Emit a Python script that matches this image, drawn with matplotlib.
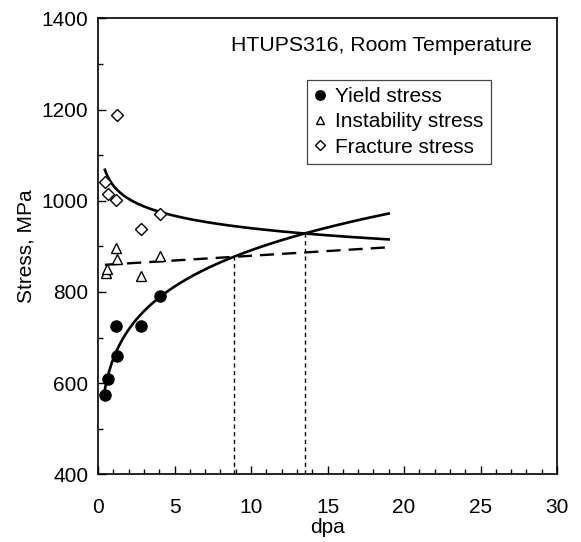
import numpy as np
import matplotlib

matplotlib.use("Agg")
import matplotlib.pyplot as plt

plt.rcParams["font.family"] = ["Liberation Sans", "DejaVu Sans"]

# measured points (dpa, MPa)
yield_dpa = [0.46, 0.63, 1.22, 1.16, 2.80, 4.05]
yield_mpa = [573, 610, 659, 725, 725, 791]

inst_dpa = [0.50, 0.57, 1.16, 1.22, 2.80, 4.05]
inst_mpa = [842, 850, 897, 872, 834, 878]

frac_dpa = [0.46, 0.63, 1.16, 1.22, 2.80, 4.05]
frac_mpa = [1040, 1015, 1001, 1187, 938, 971]

x_ticks = [0, 5, 10, 15, 20, 25, 30]
y_ticks = [400, 600, 800, 1000, 1200, 1400]


def power_fit(x, y):
    n, ln_a = np.polyfit(np.log(x), np.log(y), 1)
    return lambda t: np.exp(ln_a) * np.power(t, n)


def linear_fit(x, y):
    m, b = np.polyfit(x, y, 1)
    return lambda t: m * t + b


f_yield = power_fit(yield_dpa, yield_mpa)
f_frac = power_fit(frac_dpa, frac_mpa)
f_inst = linear_fit(inst_dpa, inst_mpa)

t = np.linspace(0.45, 19, 400)


def crossing(f, g):
    grid = np.linspace(1, 19, 20001)
    d = f(grid) - g(grid)
    i = np.where(np.diff(np.sign(d)) != 0)[0][0]
    xc = grid[i]
    return xc, f(xc)


x1, y1 = crossing(f_yield, f_inst)
x2, y2 = crossing(f_yield, f_frac)

fig = plt.figure(figsize=(5.81, 5.42), dpi=100)
ax = fig.add_axes([0.1687, 0.1248, 0.79, 0.8414])

ax.plot(t, f_frac(t), color="black", lw=1.9, zorder=2)
ax.plot(t, f_yield(t), color="black", lw=1.9, zorder=2)
ax.plot(t, f_inst(t), color="black", lw=1.7, ls=(0, (6, 3.4)), zorder=2)

for xc, yc in [(x1, y1), (x2, y2)]:
    ax.plot([xc, xc], [400, yc], color="black", lw=1.0, ls=(0, (3, 2.5)), zorder=1)

ax.plot(yield_dpa, yield_mpa, "o", ms=8, mfc="black", mec="black",
        ls="none", label="Yield stress", zorder=4)
ax.plot(inst_dpa, inst_mpa, "^", ms=7.5, mfc="white", mec="black", mew=1.0,
        ls="none", label="Instability stress", zorder=3)
ax.plot(frac_dpa, frac_mpa, "D", ms=6, mfc="white", mec="black", mew=1.0,
        ls="none", label="Fracture stress", zorder=3)

ax.set_xlim(0, 30)
ax.set_ylim(400, 1400)
ax.set_xticks(x_ticks)
ax.set_yticks(y_ticks)
ax.set_xticks(np.arange(0, 31, 1), minor=True)
ax.set_yticks(np.arange(400, 1401, 100), minor=True)
ax.tick_params(axis="both", which="major", direction="in", labelsize=15,
               length=6, width=1)
ax.tick_params(axis="both", which="minor", direction="in", length=3.5, width=1)
ax.tick_params(axis="x", which="both", top=False, pad=17)
ax.tick_params(axis="y", which="both", right=False, pad=7)
for s in ax.spines.values():
    s.set_linewidth(1.2)

ax.set_xlabel("dpa", fontsize=15, labelpad=1)
ax.set_ylabel("Stress, MPa", fontsize=15, labelpad=4)

ax.text(0.946, 0.941, "HTUPS316, Room Temperature", transform=ax.transAxes,
        ha="right", va="center", fontsize=15.3)

leg = ax.legend(loc="upper left", bbox_to_anchor=(0.455, 0.865),
                borderaxespad=0, fontsize=15, handlelength=0.6,
                handletextpad=0.4, labelspacing=0.3, borderpad=0.35,
                markerscale=0.85, fancybox=False, framealpha=1)
leg.get_frame().set_edgecolor("#444444")
leg.get_frame().set_linewidth(0.9)

fig.savefig("out.png", dpi=100, facecolor="white")
